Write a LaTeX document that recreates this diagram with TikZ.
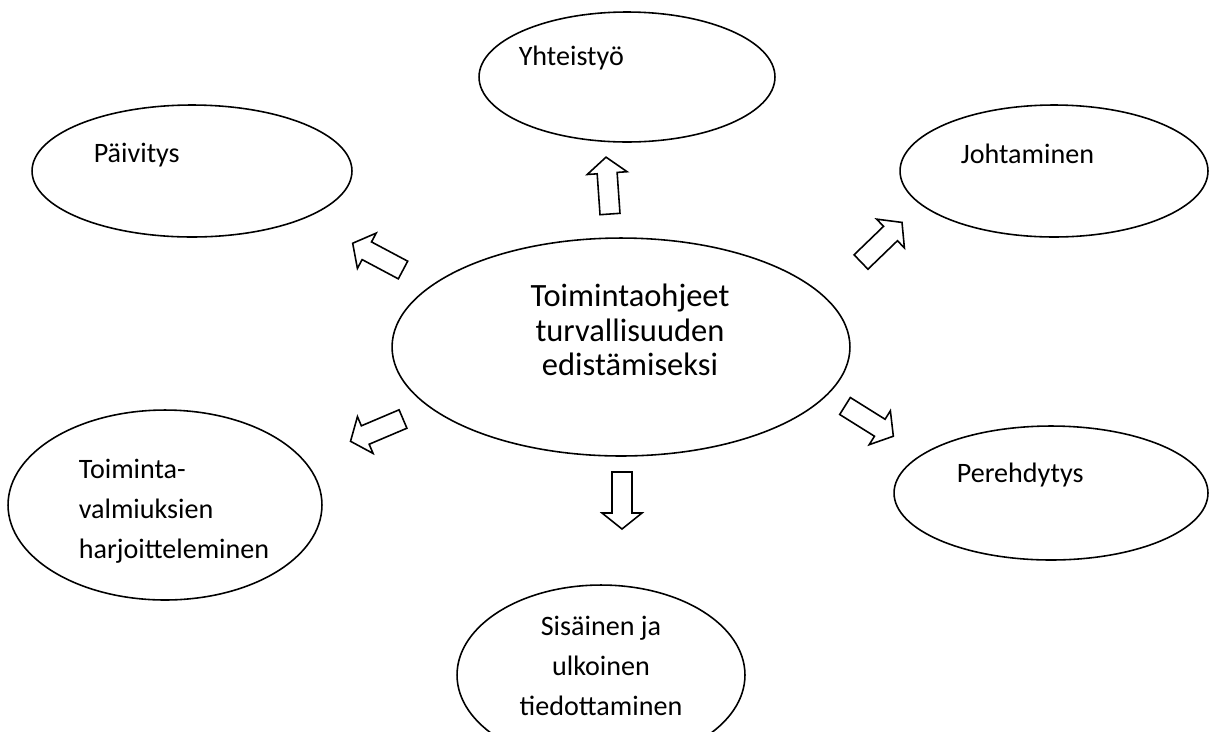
\documentclass[tikz,border=0pt]{standalone}
\usepackage{fontspec}
\setmainfont{Carlito}
\usetikzlibrary{shapes.geometric}

\begin{document}
\begin{tikzpicture}[x=0.02cm, y=-0.02cm, line width=0.9pt,
            every node/.style={inner sep=0pt},
            kupla/.style={ellipse, draw},
            teksti/.style={font=\fontsize{16}{22.7}\selectfont},
            nuoli/.pic={\draw (0,-10) -- (41,-10) -- (41,-20) -- (57,0) -- (41,20) -- (41,10) -- (0,10) -- cycle;}]
            \useasboundingbox (0,0) rectangle (1209,731);

            % Ellipses
            \node[kupla, minimum width=9.16cm, minimum height=4.36cm] (keski) at (621,347) {};
            \node[kupla, minimum width=5.92cm, minimum height=2.6cm] (yht) at (627,77) {};
            \node[kupla, minimum width=6.4cm, minimum height=2.64cm] (paiv) at (192,171) {};
            \node[kupla, minimum width=6.16cm, minimum height=2.64cm] (joht) at (1054,171) {};
            \node[kupla, minimum width=6.28cm, minimum height=3.8cm] (toim) at (165,505) {};
            \node[kupla, minimum width=6.28cm, minimum height=2.68cm] (pere) at (1051,493) {};
            \node[kupla, minimum width=5.76cm, minimum height=3.6cm] (sis) at (601,675) {};

            % Texts
            \node[font=\fontsize{18.5}{19.5}\selectfont, align=center] (keski-t) at (630,330) {Toimintaohjeet\\turvallisuuden\\edistämiseksi};
            \node[teksti, anchor=base west] (yht-t) at (518,65) {Yhteistyö};
            \node[teksti, anchor=base west] (paiv-t) at (93,162) {Päivitys};
            \node[teksti, anchor=base west] (joht-t) at (960,163) {Johtaminen};
            \node[teksti, anchor=base west] (pere-t) at (956,482) {Perehdytys};
            \node[teksti, anchor=west, align=left] (toim-t) at (78,511) {Toiminta-\\valmiuksien\\harjoitteleminen};
            \node[teksti, align=center] (sis-t) at (601,666) {Sisäinen ja\\ulkoinen\\tiedottaminen};

            % Arrows
            \pic[rotate=94] (n-yht) at (610,214) {nuoli};
            \pic[rotate=152] (n-paiv) at (403,270) {nuoli};
            \pic[rotate=44] (n-joht) at (861,262) {nuoli};
            \pic[rotate=-32] (n-pere) at (845,406) {nuoli};
            \pic[rotate=-157] (n-toim) at (403,419) {nuoli};
            \pic[rotate=-90] (n-sis) at (622,472) {nuoli};
        \end{tikzpicture}
\end{document}
